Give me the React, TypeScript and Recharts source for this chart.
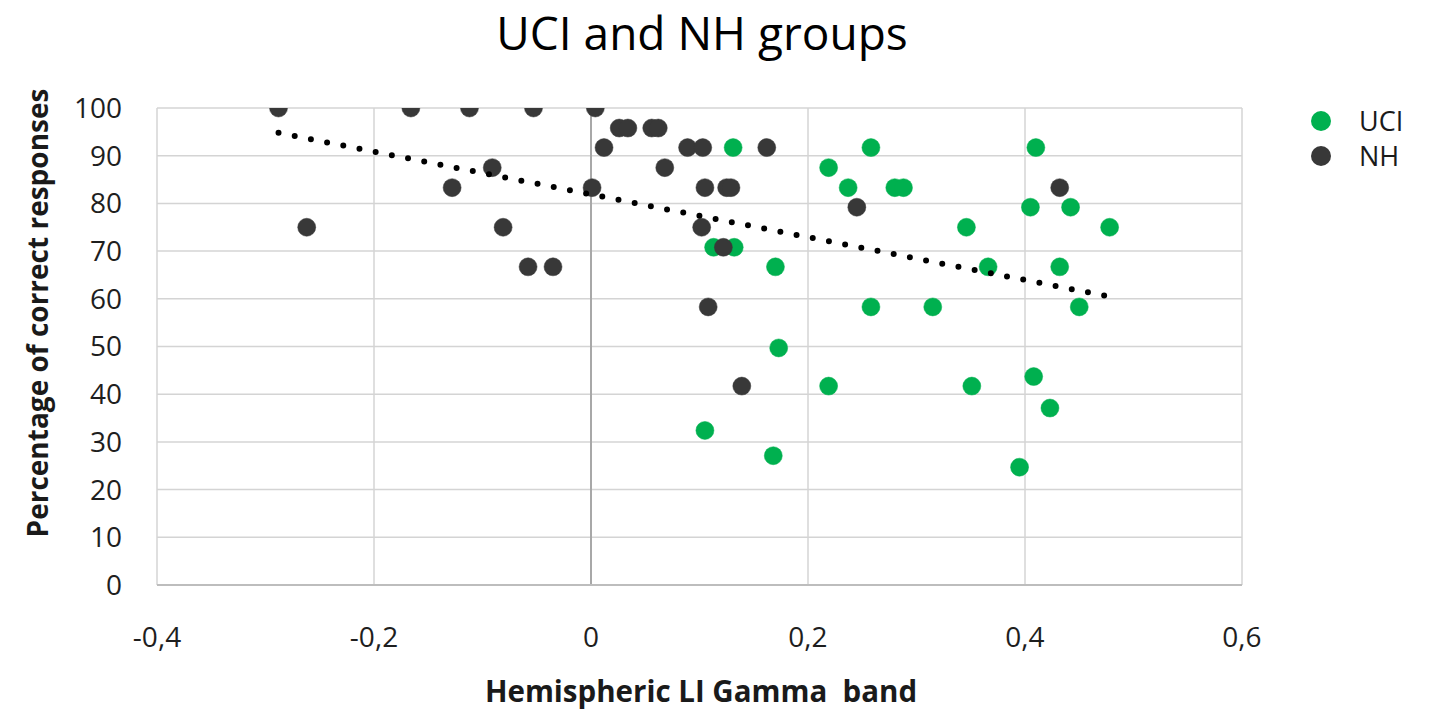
import React from 'react';
import {
  ScatterChart,
  Scatter,
  XAxis,
  YAxis,
  CartesianGrid,
  ReferenceLine,
  Label,
} from 'recharts';

const TITLE = 'UCI and NH groups';
const X_LABEL = 'Hemispheric LI Gamma  band';
const Y_LABEL = 'Percentage of correct responses';

const X_TICKS = [-0.4, -0.2, 0, 0.2, 0.4, 0.6];
const Y_TICKS = [0, 10, 20, 30, 40, 50, 60, 70, 80, 90, 100];

const UCI_X = [
  0.131, 0.258, 0.41, 0.219, 0.237, 0.28, 0.288, 0.405, 0.442, 0.346, 0.478, 0.113, 0.132, 0.17,
  0.366, 0.432, 0.258, 0.315, 0.45, 0.173, 0.219, 0.351, 0.408, 0.423, 0.105, 0.168, 0.395,
];
const UCI_Y = [
  91.7, 91.7, 91.7, 87.5, 83.3, 83.3, 83.3, 79.2, 79.2, 75, 75, 70.8, 70.8, 66.7, 66.7, 66.7, 58.3,
  58.3, 58.3, 49.7, 41.7, 41.7, 43.7, 37.1, 32.4, 27.1, 24.7,
];

const NH_X = [
  -0.288, -0.262, -0.166, -0.112, -0.053, 0.004, -0.128, -0.091, -0.081, -0.058, -0.035, 0.001,
  0.012, 0.026, 0.034, 0.056, 0.062, 0.068, 0.089, 0.103, 0.105, 0.125, 0.129, 0.102, 0.122, 0.162,
  0.245, 0.432, 0.108, 0.139,
];
const NH_Y = [
  100, 75, 100, 100, 100, 100, 83.3, 87.5, 75, 66.7, 66.7, 83.3, 91.7, 95.8, 95.8, 95.8, 95.8, 87.5,
  91.7, 91.7, 83.3, 83.3, 83.3, 75, 70.8, 91.7, 79.2, 83.3, 58.3, 41.7,
];

const TREND_X = [-0.288, 0.477];
const TREND_Y = [94.8, 60.5];

const SERIES = [
  { name: 'UCI', color: '#00b04f' },
  { name: 'NH', color: '#383838' },
];

const zip = (xs: number[], ys: number[]) => xs.map((x, i) => ({ x, y: ys[i] }));
const uciData = zip(UCI_X, UCI_Y);
const nhData = zip(NH_X, NH_Y);
const trendData = zip(TREND_X, TREND_Y);

const FONT = '"Open Sans", "Noto Sans", sans-serif';

const dot = (color: string) => (props: any) => (
  <circle cx={props.cx} cy={props.cy} r={9} fill={color} stroke={color} strokeWidth={0.5} />
);

const fmt = (v: number) => String(v).replace('.', ',');

const LegendBox = () => (
  <div style={{ position: 'absolute', left: 1300, top: 103, fontFamily: FONT }}>
    {SERIES.map((s) => (
      <div key={s.name} style={{ display: 'flex', alignItems: 'center', height: 35 }}>
        <div
          style={{
            width: 20,
            height: 20,
            borderRadius: 10,
            background: s.color,
            marginLeft: 11,
          }}
        />
        <span style={{ marginLeft: 28, fontSize: 27, color: '#1a1a1a' }}>{s.name}</span>
      </div>
    ))}
  </div>
);

export default function App() {
  return (
    <div style={{ position: 'absolute', left: 0, top: 0, width: 1450, height: 718, background: '#fff' }}>
      <div
        style={{
          position: 'absolute',
          left: 402,
          top: 1,
          width: 600,
          textAlign: 'center',
          fontFamily: FONT,
          fontSize: 46,
          color: '#000',
          whiteSpace: 'nowrap',
        }}
      >
        {TITLE}
      </div>
      <ScatterChart
        width={1450}
        height={718}
        margin={{ top: 108, right: 208, bottom: 0, left: 0 }}
        style={{ fontFamily: FONT }}
      >
        <CartesianGrid stroke="#d4d4d4" strokeWidth={1.5} />
        <XAxis
          type="number"
          dataKey="x"
          domain={[-0.4, 0.6]}
          ticks={X_TICKS}
          tickFormatter={fmt}
          height={133}
          tickSize={0}
          tickMargin={42}
          axisLine={{ stroke: '#bdbdbd', strokeWidth: 2 }}
          tickLine={false}
          tick={{ fontSize: 28, fill: '#1e1e1e', fontFamily: FONT }}
          allowDataOverflow
        >
          <Label
            content={() => (
              <text
                x={701}
                y={702}
                textAnchor="middle"
                fontSize={29.5}
                fontWeight="bold"
                fill="#1a1a1a"
                fontFamily={FONT}
                style={{ whiteSpace: 'pre' }}
              >
                {X_LABEL}
              </text>
            )}
          />
        </XAxis>
        <YAxis
          type="number"
          dataKey="y"
          domain={[0, 100]}
          ticks={Y_TICKS}
          width={157}
          tickSize={0}
          tickMargin={35}
          axisLine={false}
          tickLine={false}
          tick={{ fontSize: 28, fill: '#1e1e1e', fontFamily: FONT }}
          allowDataOverflow
        >
          <Label
            content={() => (
              <text
                x={48}
                y={313}
                transform="rotate(-90, 48, 313)"
                textAnchor="middle"
                fontSize={28}
                fontWeight="bold"
                fill="#1a1a1a"
                fontFamily={FONT}
              >
                {Y_LABEL}
              </text>
            )}
          />
        </YAxis>
        <ReferenceLine x={0} stroke="#a8a8a8" strokeWidth={2} />
        <Scatter
          name="UCI"
          data={uciData}
          fill={SERIES[0].color}
          shape={dot(SERIES[0].color)}
          isAnimationActive={false}
        />
        <Scatter
          name="NH"
          data={nhData}
          fill={SERIES[1].color}
          shape={dot(SERIES[1].color)}
          isAnimationActive={false}
        />
        <Scatter
          name="trend"
          data={trendData}
          line={{ stroke: '#000', strokeWidth: 6, strokeDasharray: '0 16.5', strokeLinecap: 'round' }}
          shape={() => <g />}
          legendType="none"
          isAnimationActive={false}
        />
      </ScatterChart>
      <LegendBox />
    </div>
  );
}
